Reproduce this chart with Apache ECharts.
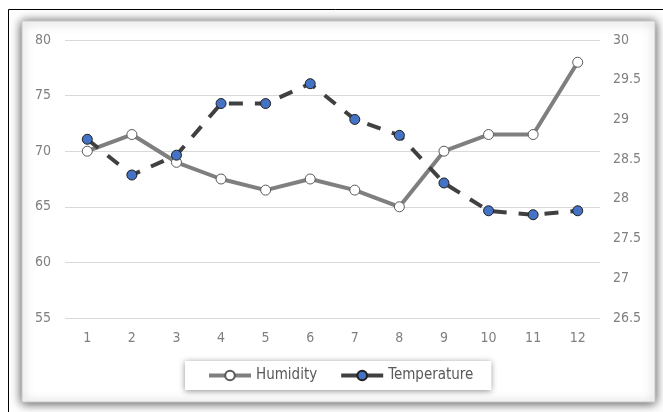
<!DOCTYPE html>
<html>
<head>
<meta charset="utf-8">
<script src="https://cdn.jsdelivr.net/npm/echarts@6/dist/echarts.min.js"></script>
<style>
  html, body { margin: 0; padding: 0; background: #ffffff; }
  #chart { width: 663px; height: 412px; }
</style>
</head>
<body>
<div id="chart"></div>
<script>
// Monthly readings
const months = ['1', '2', '3', '4', '5', '6', '7', '8', '9', '10', '11', '12'];
const humidity = [70, 71.5, 69, 67.5, 66.5, 67.5, 66.5, 65, 70, 71.5, 71.5, 78];
const temperature = [28.75, 28.3, 28.55, 29.2, 29.2, 29.45, 29.0, 28.8, 28.2, 27.85, 27.8, 27.85];

const FONT = '"Liberation Sans Narrow", "DejaVu Sans Condensed", "Liberation Sans", Arial, sans-serif';
const LABEL = '#7f7f7f';

const chart = echarts.init(document.getElementById('chart'), null, { renderer: 'canvas' });

chart.setOption({
  backgroundColor: '#ffffff',
  animation: false,
  graphic: [
    // outer thin frame
    { type: 'line', shape: { x1: 8.5, y1: 9.5, x2: 663, y2: 9.5 }, style: { stroke: '#000', lineWidth: 1 }, z: -10 },
    { type: 'line', shape: { x1: 8.5, y1: 9.5, x2: 8.5, y2: 412 }, style: { stroke: '#000', lineWidth: 1 }, z: -10 },
    // chart area panel with soft grey edge
    {
      type: 'rect', shape: { x: 22, y: 21, width: 633, height: 381 },
      style: { fill: '#ffffff', stroke: '#c8c8c8', lineWidth: 1, shadowBlur: 10, shadowColor: 'rgba(0,0,0,0.7)', shadowOffsetX: 0, shadowOffsetY: 1 },
      z: -5
    }
  ],
  grid: { left: 65, right: 63, top: 40, bottom: 94, containLabel: false },
  legend: {
    left: 185, top: 361,
    padding: [7, 18, 7, 22],
    itemGap: 22,
    itemWidth: 42, itemHeight: 12,
    backgroundColor: '#ffffff',
    shadowBlur: 6, shadowColor: 'rgba(0,0,0,0.45)', shadowOffsetY: 1,
    textStyle: { color: '#595959', fontSize: 15, fontFamily: FONT },
    data: [
      { name: 'Humidity', lineStyle: { type: 'solid', width: 4 } },
      { name: 'Temperature', lineStyle: { type: 'solid', width: 4 } }
    ]
  },
  xAxis: {
    type: 'category',
    data: months,
    boundaryGap: true,
    axisLine: { show: false },
    axisTick: { show: false },
    axisLabel: { color: LABEL, fontSize: 14, fontFamily: FONT, margin: 13 }
  },
  yAxis: [
    {
      type: 'value', min: 55, max: 80, interval: 5,
      axisLine: { show: false }, axisTick: { show: false },
      axisLabel: { color: LABEL, fontSize: 14, fontFamily: FONT, margin: 14 },
      splitLine: { lineStyle: { color: '#d9d9d9', width: 1 } }
    },
    {
      type: 'value', min: 26.5, max: 30, interval: 0.5,
      axisLine: { show: false }, axisTick: { show: false },
      axisLabel: { color: LABEL, fontSize: 14, fontFamily: FONT, margin: 13 },
      splitLine: { show: false }
    }
  ],
  series: [
    {
      name: 'Humidity', type: 'line', yAxisIndex: 0, data: humidity,
      symbol: 'circle', symbolSize: 10,
      lineStyle: { color: '#7f7f7f', width: 4 },
      itemStyle: { color: '#ffffff', borderColor: '#595959', borderWidth: 1 },
      z: 2
    },
    {
      name: 'Temperature', type: 'line', yAxisIndex: 1, data: temperature,
      symbol: 'circle', symbolSize: 10,
      lineStyle: { color: '#404040', width: 4, type: [14, 12] },
      itemStyle: { color: '#4472c4', borderColor: '#1f1f1f', borderWidth: 1 },
      z: 3
    }
  ]
});
</script>
</body>
</html>
